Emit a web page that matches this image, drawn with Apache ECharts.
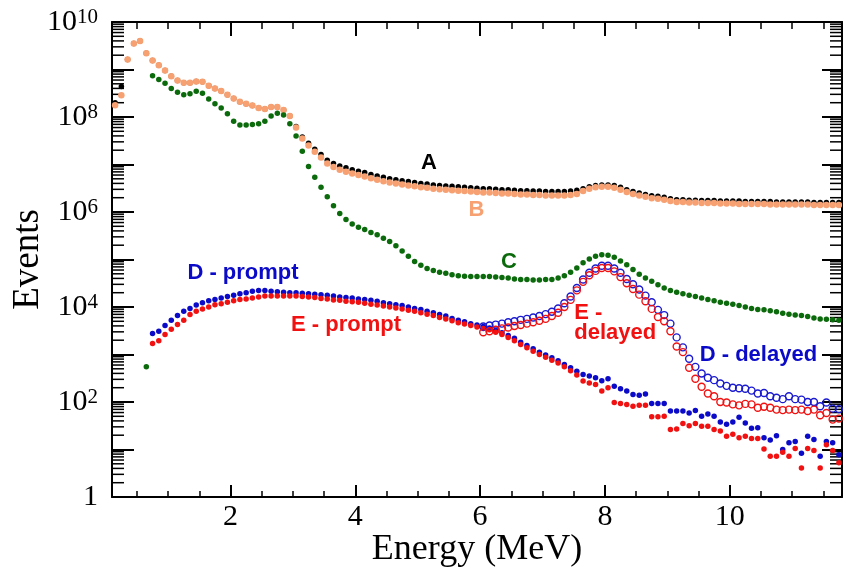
<!DOCTYPE html>
<html><head><meta charset="utf-8">
<script src="https://cdn.jsdelivr.net/npm/echarts@6/dist/echarts.min.js"></script>
<style>html,body{margin:0;padding:0;background:#fff}#c{width:846px;height:567px}</style>
</head><body><div id="c"></div>
<script>
// Bin centres (MeV)
const energies = [
0.15,0.25,0.35,0.45,0.55,0.65,0.75,0.85,0.95,1.05,
1.15,1.25,1.35,1.45,1.55,1.65,1.75,1.85,1.95,2.05,
2.15,2.25,2.35,2.45,2.55,2.65,2.75,2.85,2.95,3.05,
3.15,3.25,3.35,3.45,3.55,3.65,3.75,3.85,3.95,4.05,
4.15,4.25,4.35,4.45,4.55,4.65,4.75,4.85,4.95,5.05,
5.15,5.25,5.35,5.45,5.55,5.65,5.75,5.85,5.95,6.05,
6.15,6.25,6.35,6.45,6.55,6.65,6.75,6.85,6.95,7.05,
7.15,7.25,7.35,7.45,7.55,7.65,7.75,7.85,7.95,8.05,
8.15,8.25,8.35,8.45,8.55,8.65,8.75,8.85,8.95,9.05,
9.15,9.25,9.35,9.45,9.55,9.65,9.75,9.85,9.95,10.05,
10.15,10.25,10.35,10.45,10.55,10.65,10.75,10.85,10.95,11.05,
11.15,11.25,11.35,11.45,11.55,11.65,11.75];

// Series values as log10(Events), aligned with energies
const log10A = [
8.30,8.64,9.21,9.55,9.60,9.34,9.19,9.09,8.98,8.86,
8.77,8.72,8.72,8.75,8.74,8.66,8.60,8.55,8.47,8.39,
8.32,8.28,8.24,8.19,8.17,8.21,8.21,8.15,8.02,7.80,
7.58,7.45,7.32,7.21,7.09,7.02,6.97,6.93,6.89,6.86,
6.83,6.79,6.76,6.73,6.70,6.68,6.66,6.64,6.62,6.60,
6.59,6.57,6.56,6.55,6.54,6.53,6.52,6.51,6.50,6.49,
6.49,6.48,6.47,6.47,6.46,6.45,6.45,6.44,6.44,6.43,
6.43,6.43,6.43,6.44,6.46,6.49,6.53,6.56,6.57,6.57,
6.56,6.52,6.47,6.43,6.40,6.37,6.34,6.33,6.31,6.28,
6.26,6.26,6.25,6.25,6.24,6.24,6.24,6.23,6.23,6.23,
6.23,6.22,6.22,6.22,6.22,6.22,6.21,6.21,6.21,6.21,
6.21,6.21,6.20,6.20,6.20,6.20,6.20];

const log10B = [
8.25,8.46,9.21,9.55,9.60,9.34,9.19,9.09,8.98,8.86,
8.77,8.72,8.72,8.75,8.74,8.66,8.60,8.55,8.47,8.39,
8.32,8.28,8.24,8.19,8.17,8.21,8.21,8.15,8.02,7.78,
7.55,7.40,7.27,7.15,7.02,6.95,6.89,6.85,6.81,6.78,
6.75,6.71,6.68,6.65,6.62,6.60,6.58,6.56,6.54,6.52,
6.51,6.49,6.48,6.47,6.46,6.45,6.44,6.43,6.42,6.41,
6.41,6.40,6.39,6.39,6.38,6.37,6.37,6.36,6.36,6.35,
6.35,6.35,6.35,6.36,6.38,6.44,6.49,6.52,6.53,6.53,
6.51,6.47,6.42,6.38,6.35,6.32,6.29,6.28,6.26,6.23,
6.21,6.21,6.20,6.20,6.19,6.19,6.19,6.18,6.18,6.18,
6.17,6.17,6.17,6.17,6.17,6.16,6.16,6.16,6.16,6.16,
6.16,6.16,6.15,6.15,6.15,6.15,6.15];

const log10C = [
null,null,null,null,null,2.74,8.87,8.79,8.71,8.60,
8.52,8.47,8.49,8.54,8.50,8.38,8.28,8.19,8.07,7.91,
7.83,7.83,7.84,7.86,7.91,8.02,8.08,8.04,7.86,7.60,
7.28,6.96,6.73,6.52,6.32,6.13,5.97,5.84,5.75,5.68,
5.63,5.57,5.52,5.45,5.38,5.29,5.18,5.07,4.96,4.88,
4.81,4.77,4.73,4.71,4.68,4.66,4.65,4.64,4.64,4.64,
4.64,4.63,4.62,4.61,4.59,4.58,4.58,4.57,4.57,4.58,
4.58,4.61,4.66,4.73,4.82,4.93,5.01,5.07,5.10,5.09,
5.05,4.97,4.89,4.79,4.69,4.61,4.54,4.47,4.40,4.35,
4.31,4.28,4.25,4.22,4.19,4.16,4.13,4.10,4.08,4.06,
4.03,4.00,3.97,3.95,3.94,3.92,3.90,3.87,3.85,3.83,
3.82,3.80,3.77,3.75,3.74,3.73,3.72];

const log10DPrompt = [
null,null,null,null,null,null,3.44,3.49,3.61,3.72,
3.82,3.91,3.97,4.04,4.09,4.13,4.16,4.19,4.22,4.25,
4.28,4.30,4.33,4.35,4.35,4.33,4.32,4.31,4.30,4.30,
4.29,4.28,4.27,4.26,4.25,4.23,4.21,4.20,4.19,4.17,
4.16,4.14,4.12,4.09,4.07,4.05,4.03,4.00,3.97,3.95,
3.91,3.88,3.84,3.81,3.76,3.72,3.69,3.65,3.62,3.59,
3.56,3.51,3.46,3.40,3.34,3.26,3.19,3.12,3.05,2.99,
2.93,2.87,2.79,2.72,2.65,2.58,2.55,2.51,2.45,2.49,
2.33,2.28,2.23,2.16,2.14,2.17,1.97,1.97,1.97,1.81,
1.81,1.81,1.77,1.82,1.70,1.75,1.70,1.58,1.53,1.58,
1.68,1.56,1.45,1.46,1.25,1.20,1.29,1.00,1.14,1.17,
0.92,1.28,1.21,0.86,1.17,1.14,0.89];

const log10EPrompt = [
null,null,null,null,null,null,3.23,3.29,3.42,3.53,
3.63,3.72,3.84,3.91,3.96,4.00,4.05,4.07,4.10,4.13,
4.16,4.17,4.19,4.21,4.23,4.23,4.23,4.23,4.23,4.23,
4.22,4.21,4.20,4.18,4.17,4.15,4.14,4.12,4.11,4.10,
4.08,4.06,4.04,4.02,4.00,3.98,3.96,3.93,3.91,3.88,
3.85,3.82,3.78,3.75,3.71,3.67,3.64,3.61,3.58,3.55,
3.52,3.47,3.42,3.36,3.29,3.21,3.14,3.07,3.00,2.94,
2.88,2.82,2.74,2.66,2.57,2.44,2.40,2.37,2.23,2.30,
1.99,1.97,1.95,1.91,1.93,1.93,1.69,1.69,1.70,1.42,
1.43,1.55,1.50,1.55,1.49,1.49,1.42,1.39,1.28,1.32,
1.25,1.28,1.23,1.23,1.01,0.86,0.86,0.94,0.86,1.02,
0.61,1.02,0.98,0.61,1.10,0.98,0.72];

const log10DDelayed = [
null,null,null,null,null,null,null,null,null,null,
null,null,null,null,null,null,null,null,null,null,
null,null,null,null,null,null,null,null,null,null,
null,null,null,null,null,null,null,null,null,null,
null,null,null,null,null,null,null,null,null,null,
null,null,null,null,null,null,null,null,null,3.59,
3.61,3.63,3.65,3.68,3.70,3.73,3.75,3.78,3.81,3.85,
3.90,3.97,4.08,4.22,4.40,4.58,4.72,4.81,4.87,4.87,
4.81,4.72,4.59,4.48,4.37,4.24,4.10,3.94,3.83,3.65,
3.36,3.15,2.91,2.74,2.60,2.51,2.46,2.39,2.34,2.30,
2.29,2.28,2.24,2.18,2.19,2.12,2.09,2.06,2.12,2.06,
2.05,2.00,2.00,1.91,1.99,1.86,1.85];

const log10EDelayed = [
null,null,null,null,null,null,null,null,null,null,
null,null,null,null,null,null,null,null,null,null,
null,null,null,null,null,null,null,null,null,null,
null,null,null,null,null,null,null,null,null,null,
null,null,null,null,null,null,null,null,null,null,
null,null,null,null,null,null,null,null,null,3.47,
3.49,3.52,3.55,3.57,3.60,3.62,3.65,3.68,3.71,3.75,
3.81,3.88,4.00,4.15,4.35,4.53,4.67,4.76,4.82,4.82,
4.75,4.63,4.50,4.38,4.26,4.12,3.96,3.79,3.70,3.49,
3.17,3.05,2.72,2.49,2.32,2.18,2.12,2.00,1.99,1.95,
1.93,1.96,1.95,1.88,1.90,1.88,1.84,1.83,1.84,1.83,
1.84,1.81,1.84,1.72,1.77,1.63,1.65];

// Ticks
const xMajorTicks = [2, 4, 6, 8, 10];
const xMinorTicks = [0.5,1,1.5,2.5,3,3.5,4.5,5,5.5,6.5,7,7.5,8.5,9,9.5,10.5,11,11.5];
const yDecadeStarts = [1,1e1,1e2,1e3,1e4,1e5,1e6,1e7,1e8,1e9];
const yMinorMultipliers = [2,3,4,5,6,7,8,9];

// Annotations (anchor in data coordinates)
const annotations = [
  {text:'A', energy:5.18, events:1.1e7, color:'#000000', align:'center'},
  {text:'B', energy:5.94, events:1.12e6, color:'#f7a072', align:'center'},
  {text:'C', energy:6.46, events:9.1e4, color:'#0b6a0b', align:'center'},
  {text:'D - prompt', energy:2.20, events:5.1e4, color:'#0a0ac8', align:'center'},
  {text:'E - prompt', energy:3.85, events:4.1e3, color:'#f21111', align:'center'},
  {text:'E -\ndelayed', energy:7.51, events:4.7e3, color:'#f21111', align:'left'},
  {text:'D - delayed', energy:10.46, events:1.0e3, color:'#0a0ac8', align:'center'}
];

function toPoints(logs) {
  const pts = [];
  energies.forEach((e, i) => { if (logs[i] != null) pts.push([e, Math.pow(10, logs[i])]); });
  return pts;
}
const minorTickValues = [];
yDecadeStarts.forEach(d => yMinorMultipliers.forEach(m => minorTickValues.push([1, m * d])));

const SERIF = '"Liberation Serif", "Times New Roman", serif';
const X_MIN = 0.1, X_MAX = 11.8;

function xAxisDef(pos, ticks, len, width, showLine, withLabels) {
  const a = {
    type: 'value', position: pos, min: X_MIN, max: X_MAX,
    axisLine: {show: showLine, onZero: false, lineStyle: {color: '#000', width: 2}},
    axisTick: {show: true, inside: true, length: len, customValues: ticks, lineStyle: {color: '#000', width: width}},
    axisLabel: {show: false},
    splitLine: {show: false}
  };
  if (withLabels) {
    a.axisLabel = {show: true, customValues: xMajorTicks, margin: 5, color: '#000', fontFamily: SERIF, fontSize: 30};
    a.name = 'Energy (MeV)';
    a.nameLocation = 'middle';
    a.nameGap = 35;
    a.nameMoveOverlap = false;
    a.nameTextStyle = {color: '#000', fontFamily: SERIF, fontSize: 36};
  }
  return a;
}

const chart = echarts.init(document.getElementById('c'));
function scatter(name, logs, color, size, open) {
  return {
    name, type: 'scatter', xAxisIndex: 0, yAxisIndex: 0,
    data: toPoints(logs), symbol: 'circle', symbolSize: size,
    itemStyle: open ? {color: 'rgba(255,255,255,0)', borderColor: color, borderWidth: 1.4, opacity: 1}
                    : {color: color, opacity: 1},
    silent: true, animation: false
  };
}

chart.setOption({
  animation: false,
  backgroundColor: '#ffffff',
  grid: {left: 112, top: 22, right: 4, bottom: 70, outerBoundsMode: 'none'},
  xAxis: [
    xAxisDef('bottom', xMajorTicks, 12, 2, true, true),
    xAxisDef('bottom', xMinorTicks, 6, 1.5, false, false),
    xAxisDef('top', xMajorTicks, 14, 2, true, false),
    xAxisDef('top', xMinorTicks, 7, 1.5, false, false)
  ],
  yAxis: [
    {
      type: 'log', logBase: 10, min: 1, max: 1e10, interval: 1, position: 'left',
      axisLine: {show: true, lineStyle: {color: '#000', width: 2}},
      axisTick: {show: true, inside: true, length: 22, lineStyle: {color: '#000', width: 2}},
      splitLine: {show: false},
      axisLabel: {
        margin: 14,
        formatter: v => {
          const e = Math.round(Math.log10(v));
          if (e % 2 !== 0) return '';
          if (e === 0) return '{b|1}';
          return '{b|10}{s|' + e + '}';
        },
        rich: {
          b: {fontFamily: SERIF, fontSize: 30, lineHeight: 30, color: '#000', verticalAlign: 'middle'},
          s: {fontFamily: SERIF, fontSize: 21, lineHeight: 21, color: '#000', verticalAlign: 'top', padding: [0, 0, 17, 0]}
        }
      },
      name: 'Events', nameLocation: 'middle', nameGap: 65, nameRotate: 90, nameMoveOverlap: false,
      nameTextStyle: {color: '#000', fontFamily: SERIF, fontSize: 37}
    },
    {
      type: 'log', logBase: 10, min: 1, max: 1e10, interval: 1, position: 'right',
      axisLine: {show: true, lineStyle: {color: '#000', width: 2}},
      axisTick: {show: true, inside: true, length: 20, lineStyle: {color: '#000', width: 2}},
      axisLabel: {show: false}, splitLine: {show: false}
    }
  ],
  series: [
    {
      type: 'custom', xAxisIndex: 0, yAxisIndex: 0, silent: true, z: 1,
      data: minorTickValues,
      renderItem: (params, api) => {
        const cs = params.coordSys;
        const y = api.coord([1, api.value(1)])[1];
        const st = {stroke: '#000', lineWidth: 1.5};
        return {type: 'group', children: [
          {type: 'line', shape: {x1: cs.x, y1: y, x2: cs.x + 12, y2: y}, style: st},
          {type: 'line', shape: {x1: cs.x + cs.width - 12, y1: y, x2: cs.x + cs.width, y2: y}, style: st}
        ]};
      }
    },
    scatter('A', log10A, '#000000', 5.5, false),
    scatter('B', log10B, '#f7a072', 6.5, false),
    scatter('C', log10C, '#0b6a0b', 5.5, false),
    scatter('D - prompt', log10DPrompt, '#0a0ac8', 5.5, false),
    scatter('E - prompt', log10EPrompt, '#f21111', 5.5, false),
    scatter('D - delayed', log10DDelayed, '#1a1ad0', 7, true),
    scatter('E - delayed', log10EDelayed, '#f21111', 7, true)
  ]
});

const graphics = annotations.map(a => {
  const p = chart.convertToPixel({xAxisIndex: 0, yAxisIndex: 0}, [a.energy, a.events]);
  return {
    type: 'text', x: p[0], y: p[1], silent: true, z: 100,
    style: {text: a.text, fill: a.color, font: 'bold 22px "Liberation Sans", Arial, sans-serif',
            align: a.align, verticalAlign: 'middle', lineHeight: 20}
  };
});
chart.setOption({graphic: graphics});
</script>
</body></html>
